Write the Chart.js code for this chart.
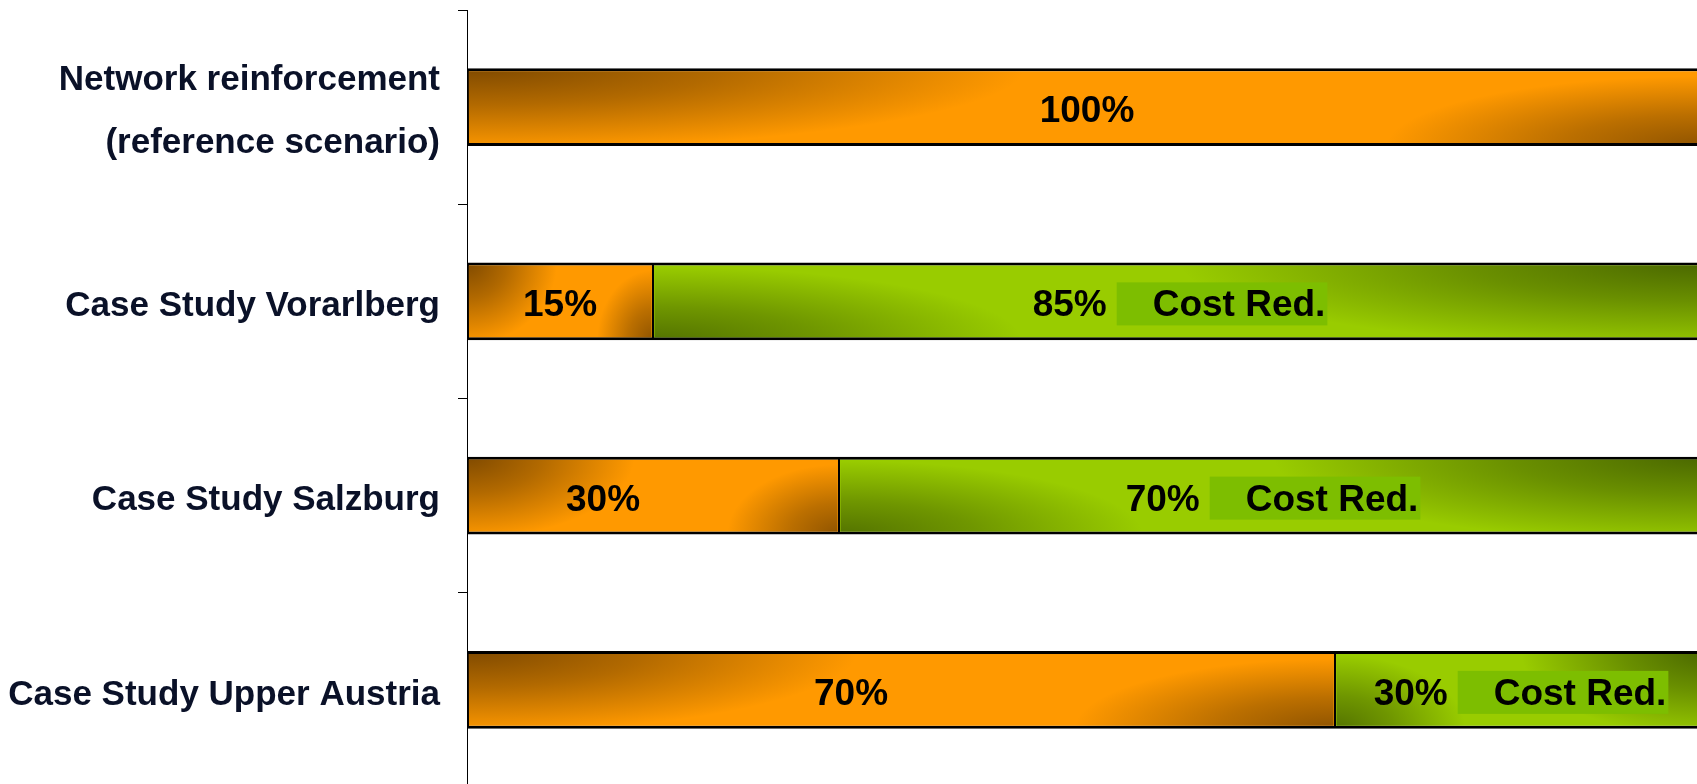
<!DOCTYPE html>
<html>
<head>
<meta charset="utf-8">
<script src="https://cdn.jsdelivr.net/npm/chart.js@4/dist/chart.umd.min.js"></script>
<style>
  html, body { margin: 0; padding: 0; background: #fff; overflow: hidden; }
  .wrap { width: 1697px; height: 784px; overflow: hidden; }
</style>
</head>
<body>
<div class="wrap">
  <canvas id="chart" width="1712" height="790"></canvas>
</div>
<script>
const categories = [
  ['Network reinforcement', '(reference scenario)'],
  'Case Study Vorarlberg',
  'Case Study Salzburg',
  'Case Study Upper Austria'
]
const remainingCost = [100, 15, 30, 70]
const costReduction = [0, 85, 70, 30]
const reductionNote = 'Cost Red.'

const ORANGE = '#ff9900'
const GREEN = '#99cc00'

// paint a soft dark ellipse in one corner of a bar
function cornerShade(ctx, cx, cy, rx, ry, rgb, alpha) {
  ctx.save()
  ctx.translate(cx, cy)
  ctx.scale(rx, ry)
  const g = ctx.createRadialGradient(0, 0, 0, 0, 0, 1)
  g.addColorStop(0, `rgba(${rgb},${alpha})`)
  g.addColorStop(0.45, `rgba(${rgb},${alpha * 0.6})`)
  g.addColorStop(1, `rgba(${rgb},0)`)
  ctx.fillStyle = g
  ctx.fillRect(-1, -1, 2, 2)
  ctx.restore()
}

const barDecor = {
  id: 'barDecor',
  afterDatasetsDraw(chart, args, opts) {
    const ctx = chart.ctx
    chart.data.datasets.forEach((ds, di) => {
      const meta = chart.getDatasetMeta(di)
      meta.data.forEach((bar, i) => {
        const p = bar.getProps(['x', 'y', 'base', 'height'], true)
        const left = Math.min(p.x, p.base), right = Math.max(p.x, p.base)
        const w = right - left, h = p.height
        if (w < 4) return
        const top = p.y - h / 2, bottom = p.y + h / 2

        // shading
        ctx.save()
        ctx.beginPath()
        ctx.rect(left + 1.5, top + 3, w - 3, h - 6)
        ctx.clip()
        if (di === 0) {
          cornerShade(ctx, left, top, Math.max(w * 0.45, 90), h * 1.05, '105,60,0', 0.85)
          cornerShade(ctx, right, bottom, Math.min(w * 0.3, 320), h * 0.9, '105,60,0', 0.75)
        } else {
          cornerShade(ctx, left, bottom, w * 0.35, h * 0.95, '60,85,0', 0.75)
          cornerShade(ctx, right, top, w * 0.5, h * 1.1, '60,85,0', 0.85)
        }
        ctx.restore()

        // labels
        const cx = (left + right) / 2
        const base = p.y + 15
        const val = ds.data[i]
        ctx.save()
        ctx.font = opts.font
        ctx.fillStyle = '#000'
        ctx.textBaseline = 'alphabetic'
        if (di === 0) {
          ctx.textAlign = 'center'
          ctx.fillText(val + '%', cx + (opts.shift[i] || 0), base)
        } else {
          const pct = val + '%'
          const pctW = ctx.measureText(pct).width
          const noteW = ctx.measureText(reductionNote).width
          const boxW = opts.padLeft + noteW + opts.padRight
          let x = cx - (pctW + opts.gap + boxW) / 2
          ctx.textAlign = 'left'
          ctx.fillText(pct, x, base)
          x += pctW + opts.gap
          ctx.fillStyle = '#7dbe00'
          ctx.fillRect(x, p.y - 19, boxW, 43)
          ctx.fillStyle = '#000'
          ctx.fillText(reductionNote, x + opts.padLeft, base)
        }
        ctx.restore()
      })
    })
  }
}

new Chart(document.getElementById('chart'), {
  type: 'bar',
  data: {
    labels: categories,
    datasets: [{
      label: 'Remaining cost',
      data: remainingCost,
      backgroundColor: ORANGE,
      borderColor: '#000',
      borderWidth: { top: 3, bottom: 3, left: 2, right: 1 },
      borderSkipped: false
    }, {
      label: 'Cost reduction',
      data: costReduction,
      backgroundColor: GREEN,
      borderColor: '#000',
      borderWidth: { top: 3, bottom: 3, left: 1, right: 2 },
      borderSkipped: false
    }]
  },
  options: {
    indexAxis: 'y',
    responsive: false,
    animation: false,
    layout: { padding: { top: 10, right: 5, bottom: 3, left: 0 } },
    datasets: { bar: { categoryPercentage: 1, barPercentage: 0.4 } },
    plugins: {
      legend: { display: false },
      tooltip: { enabled: false },
      barDecor: {
        font: 'bold 37px "Liberation Sans", Arial, sans-serif',
        shift: [0, 0, -50, -50],
        gap: 10,
        padLeft: 36,
        padRight: 2
      }
    },
    scales: {
      x: { stacked: true, min: 0, max: 100, display: false },
      y: {
        stacked: true,
        afterFit(scale) {
          scale.width = 467
          scale.paddingTop = 0
          scale.paddingBottom = 0
        },
        border: { display: true, color: '#000', width: 1 },
        grid: {
          offset: true,
          drawOnChartArea: false,
          drawTicks: true,
          tickLength: 9,
          color: '#000',
          lineWidth: 1
        },
        ticks: {
          padding: 18,
          labelOffset: 5,
          color: '#0a1128',
          font: { family: '"Liberation Sans", Arial, sans-serif', size: 35, weight: 'bold', lineHeight: 1.8 }
        }
      }
    }
  },
  plugins: [barDecor]
})
</script>
</body>
</html>
